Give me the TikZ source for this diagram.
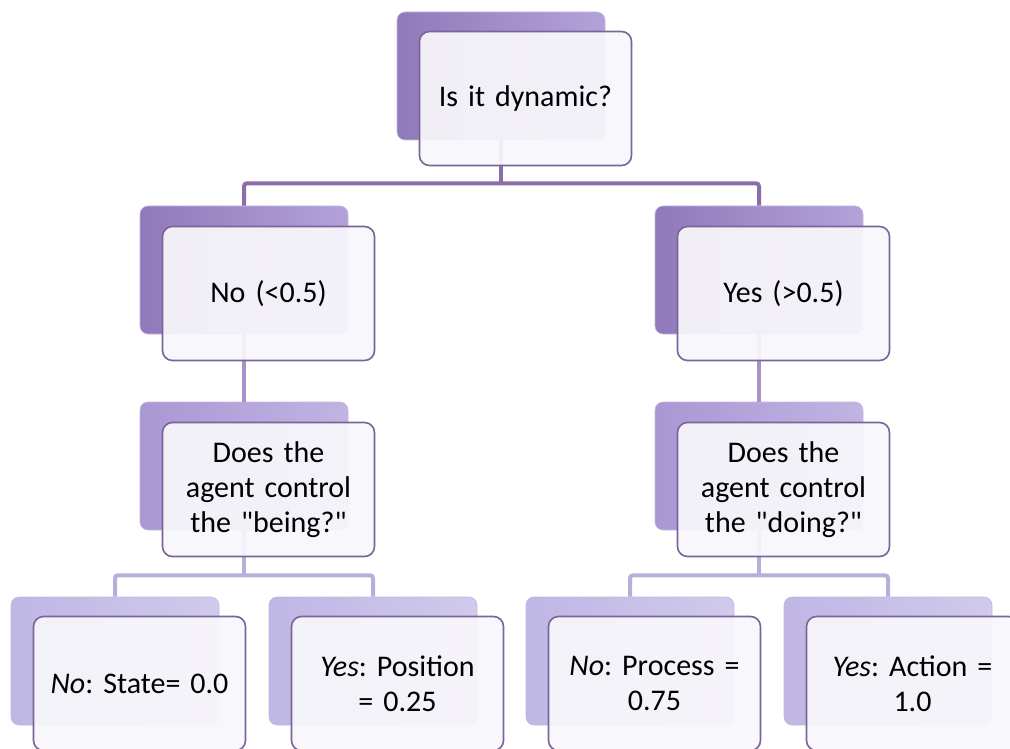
\documentclass[tikz,border=0pt]{standalone}
\usepackage{fontspec}
\setmainfont{Carlito}
\newfontfamily\cardfont{Carlito}
\usetikzlibrary{positioning}
\definecolor{frame}{HTML}{7B6497}
\definecolor{paper}{HTML}{F8F7FB}
\definecolor{lineA}{HTML}{8B6DAA}
\definecolor{lineB}{HTML}{A792C9}
\definecolor{lineC}{HTML}{B9AEDB}
\definecolor{darkA}{HTML}{9079BA}
\definecolor{lightA}{HTML}{B3A2DA}
\definecolor{darkB}{HTML}{A997D3}
\definecolor{lightB}{HTML}{C0B4E3}
\definecolor{darkC}{HTML}{BFB6E4}
\definecolor{lightC}{HTML}{D0CAED}
\tikzstyle{back}=[rectangle, rounded corners=8pt, minimum width=208pt,
                  minimum height=128pt, inner sep=0, draw=white!35!lineB, line width=0.6pt]
\tikzstyle{backA}=[back, left color=darkA, right color=lightA]
\tikzstyle{backB}=[back, left color=darkB, right color=lightB]
\tikzstyle{backC}=[back, left color=darkC, right color=lightC]
\tikzstyle{front}=[rectangle, rounded corners=10pt, draw=frame, line width=1.6pt,
                   fill=paper, fill opacity=0.93, text opacity=1, minimum width=212pt,
                   minimum height=134pt, align=center, text width=200pt,
                   font=\cardfont\frenchspacing\fontsize{30}{35}\selectfont, anchor=north west]
\tikzstyle{conn}=[line width=4pt, rounded corners=3pt]
\begin{document}
\begin{tikzpicture}[x=1pt, y=-1pt]
\path[clip] (0,0) rectangle (1010,749);
\fill[white] (0,0) rectangle (1010,749);
% back plates
\node[backA] (dynb) at (501,76) {};
\node[backA] (nob) at (244,270) {};
\node[backA] (yesb) at (759,270) {};
\node[backB] (beingb) at (244,466) {};
\node[backB] (doingb) at (759,466) {};
\node[backC] (stateb) at (115,661) {};
\node[backC] (posb) at (373,661) {};
\node[backC] (procb) at (630,661) {};
\node[backC] (actb) at (888,661) {};
% connectors
\draw[conn, lineA] (dynb.south) -- ++(0,43) coordinate (j1);
\draw[conn, lineA] (j1) -| (nob.north);
\draw[conn, lineA] (j1) -| (yesb.north);
\draw[conn, lineB] (nob.south) -- (beingb.north);
\draw[conn, lineB] (yesb.south) -- (doingb.north);
\draw[conn, lineC] (beingb.south) -- ++(0,45) coordinate (j2);
\draw[conn, lineC] (j2) -| (stateb.north);
\draw[conn, lineC] (j2) -| (posb.north);
\draw[conn, lineC] (doingb.south) -- ++(0,45) coordinate (j3);
\draw[conn, lineC] (j3) -| (procb.north);
\draw[conn, lineC] (j3) -| (actb.north);
% front cards
\node[front] (dyn) at ([xshift=22pt,yshift=-19pt]dynb.north west) {Is it dynamic?};
\node[front] (no) at ([xshift=22pt,yshift=-20pt]nob.north west) {No (<0.5)};
\node[front] (yes) at ([xshift=22pt,yshift=-20pt]yesb.north west) {Yes (>0.5)};
\node[front] (being) at ([xshift=22pt,yshift=-20pt]beingb.north west)
  {Does the\\agent control\\the "being?"};
\node[front] (doing) at ([xshift=22pt,yshift=-20pt]doingb.north west)
  {Does the\\agent control\\the "doing?"};
\node[front] (state) at ([xshift=22pt,yshift=-19pt]stateb.north west)
  {\textit{No}: State= 0.0};
\node[front] (pos) at ([xshift=22pt,yshift=-19pt]posb.north west)
  {\textit{Yes}: Position\\= 0.25};
\node[front] (proc) at ([xshift=22pt,yshift=-19pt]procb.north west)
  {\textit{No}: Process =\\0.75};
\node[front] (act) at ([xshift=22pt,yshift=-19pt]actb.north west)
  {\textit{Yes}: Action =\\1.0};
\end{tikzpicture}
\end{document}
